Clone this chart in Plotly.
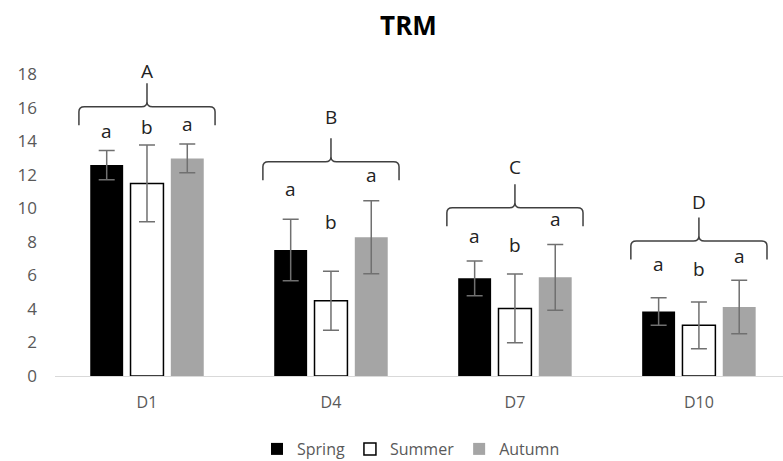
import plotly.graph_objects as go

categories = ["D1", "D4", "D7", "D10"]
seasons = ["Spring", "Summer", "Autumn"]

spring_vals = [12.57, 7.51, 5.82, 3.85]
spring_err = [0.87, 1.84, 1.03, 0.82]
summer_vals = [11.48, 4.49, 4.03, 3.02]
summer_err = [2.29, 1.76, 2.05, 1.39]
autumn_vals = [12.97, 8.27, 5.88, 4.11]
autumn_err = [0.86, 2.17, 1.96, 1.59]

# significance letters (per bar) and their baselines
bar_letters = ["a", "b", "a"]
spring_letter_y = [14.12, 10.65, 7.87, 6.22]
summer_letter_y = [14.36, 8.70, 7.31, 5.88]
autumn_letter_y = [14.56, 11.52, 8.86, 6.66]

# group letters above braces
group_letters = ["A", "B", "C", "D"]
group_letter_y = [17.72, 14.96, 11.98, 9.89]
brace_level = [16.05, 12.77, 10.03, 8.05]

y_ticks = [0, 2, 4, 6, 8, 10, 12, 14, 16, 18]

BARGAP = 0.343
BARGROUPGAP = 0.183
FONT = "Open Sans"
TICK_COLOR = "#595959"

xpos = list(range(len(categories)))

series = [
    ("Spring", spring_vals, spring_err, "#000000", "#000000", 0),
    ("Summer", summer_vals, summer_err, "#ffffff", "#000000", 1.5),
    ("Autumn", autumn_vals, autumn_err, "#a5a5a5", "#a5a5a5", 0),
]

fig = go.Figure()
for name, vals, err, fill, line, lw in series:
    fig.add_trace(go.Bar(
        name=name, x=xpos, y=vals,
        marker=dict(color=fill, line=dict(color=line, width=lw)),
        error_y=dict(type="data", array=err, visible=True,
                     color="#707070", thickness=1.5, width=8),
    ))

slot = (1 - BARGAP) / 3
offsets = [(i - 1) * slot for i in range(3)]
letter_ys = [spring_letter_y, summer_letter_y, autumn_letter_y]

annotations = []
for g, cx in enumerate(xpos):
    for i in range(3):
        annotations.append(dict(
            x=cx + offsets[i], y=letter_ys[i][g], xref="x", yref="y",
            text=bar_letters[i], showarrow=False, yanchor="bottom",
            yshift=-7, font=dict(family=FONT, size=19, color="#222222")))
    annotations.append(dict(
        x=cx, y=group_letter_y[g], xref="x", yref="y",
        text=group_letters[g], showarrow=False, yanchor="bottom",
        yshift=-7, font=dict(family=FONT, size=19, color="#222222")))

# curly braces
HW, DROP, RISE, RX, RY = 0.37, 1.1, 1.4, 0.03, 0.3
shapes = []
for g, cx in enumerate(xpos):
    h = brace_level[g]
    l, r = cx - HW, cx + HW
    path = (
        f"M{l},{h - DROP} L{l},{h - RY} Q{l},{h} {l + RX},{h} "
        f"L{cx - RX},{h} Q{cx},{h} {cx},{h + RY} L{cx},{h + RISE} "
        f"M{cx},{h + RY} Q{cx},{h} {cx + RX},{h} "
        f"L{r - RX},{h} Q{r},{h} {r},{h - RY} L{r},{h - DROP}"
    )
    shapes.append(dict(type="path", path=path, xref="x", yref="y",
                       line=dict(color="#404040", width=1.5)))

fig.update_layout(
    width=783, height=461,
    margin=dict(l=55, r=0, t=74, b=85, autoexpand=False),
    paper_bgcolor="white", plot_bgcolor="white",
    barmode="group", bargap=BARGAP, bargroupgap=BARGROUPGAP,
    title=dict(text="<b>TRM</b>", x=0.5217, xanchor="center",
               y=1 - 25.5 / 461, yanchor="middle",
               font=dict(family=FONT, size=26, color="#000000")),
    xaxis=dict(range=[-0.5, 3.457], tickmode="array", tickvals=xpos,
               ticktext=categories, showgrid=False, zeroline=False,
               showline=True, linecolor="#d9d9d9", linewidth=1,
               ticks="", ticklabelstandoff=12,
               tickfont=dict(family=FONT, size=16, color=TICK_COLOR)),
    yaxis=dict(range=[0, 18], tickmode="array", tickvals=y_ticks,
               showgrid=False, zeroline=False, showline=False, ticks="",
               ticklabelstandoff=17,
               tickfont=dict(family=FONT, size=17, color=TICK_COLOR)),
    legend=dict(orientation="h", x=0.489, xanchor="center",
                y=-(449 - 376) / 302, yanchor="middle",
                font=dict(family=FONT, size=16, color=TICK_COLOR),
                itemwidth=30, traceorder="normal"),
    annotations=annotations, shapes=shapes,
)

fig.write_html("out.html")
